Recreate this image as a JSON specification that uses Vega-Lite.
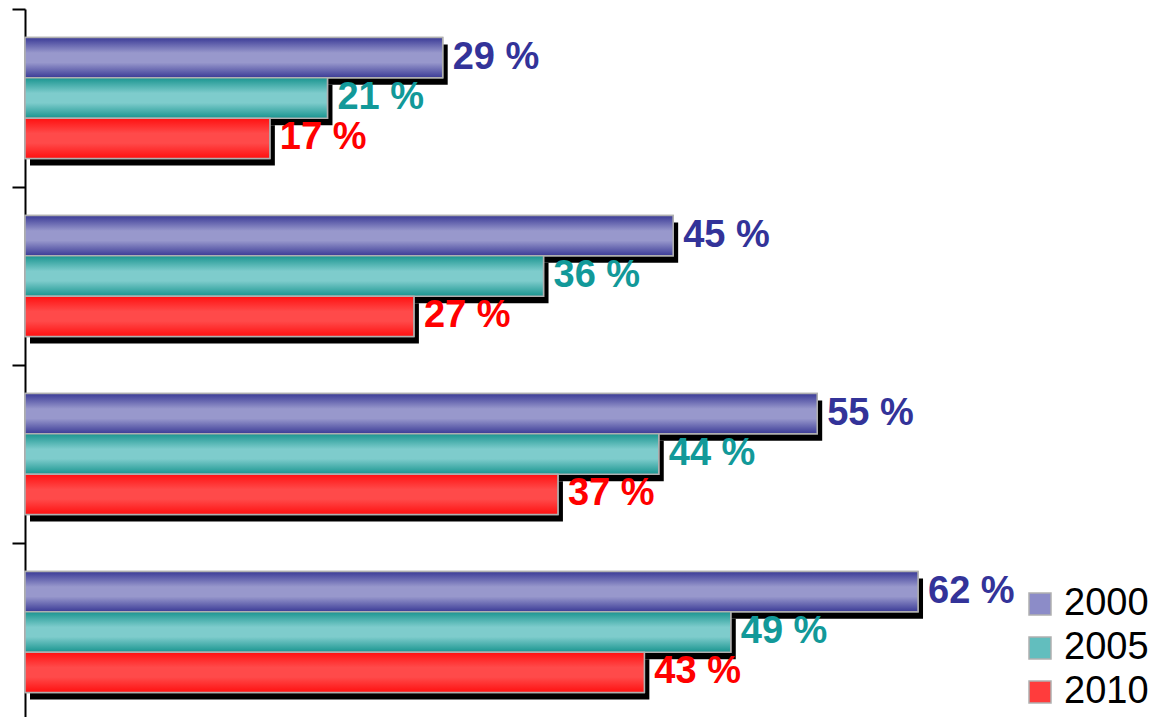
{
  "$schema": "https://vega.github.io/schema/vega-lite/v6.json",
  "width": 1135,
  "height": 712,
  "autosize": {"type": "none"},
  "padding": {"left": 25, "top": 9, "right": 0, "bottom": 0},
  "background": "white",
  "config": {"view": {"stroke": null}, "font": "Liberation Sans"},
  "data": {
    "values": [
      {"group": "A", "year": "2000", "value": 29, "label": "29 %"},
      {"group": "A", "year": "2005", "value": 21, "label": "21 %"},
      {"group": "A", "year": "2010", "value": 17, "label": "17 %"},
      {"group": "B", "year": "2000", "value": 45, "label": "45 %"},
      {"group": "B", "year": "2005", "value": 36, "label": "36 %"},
      {"group": "B", "year": "2010", "value": 27, "label": "27 %"},
      {"group": "C", "year": "2000", "value": 55, "label": "55 %"},
      {"group": "C", "year": "2005", "value": 44, "label": "44 %"},
      {"group": "C", "year": "2010", "value": 37, "label": "37 %"},
      {"group": "D", "year": "2000", "value": 62, "label": "62 %"},
      {"group": "D", "year": "2005", "value": 49, "label": "49 %"},
      {"group": "D", "year": "2010", "value": 43, "label": "43 %"}
    ]
  },
  "encoding": {
    "y": {
      "field": "group", "type": "nominal", "sort": null,
      "scale": {"paddingInner": 0, "paddingOuter": 0},
      "axis": {"labels": false, "title": null, "bandPosition": 0, "tickSize": 13, "tickWidth": 2, "tickColor": "black", "domainColor": "black", "domainWidth": 2, "grid": false}
    },
    "x": {"field": "value", "type": "quantitative", "scale": {"domain": [0, 78.8]}, "axis": null}
  },
  "layer": [
    {
      "mark": {"type": "bar", "fill": "black", "xOffset": 5},
      "encoding": {
        "yOffset": {
          "field": "year", "type": "nominal", "sort": ["2000", "2005", "2010"],
          "scale": {"paddingOuter": 0.71, "paddingInner": 0, "range": [7, 185]}
        }
      }
    },
    {
      "encoding": {
        "yOffset": {
          "field": "year", "type": "nominal", "sort": ["2000", "2005", "2010"],
          "scale": {"paddingOuter": 0.71, "paddingInner": 0}
        }
      },
      "layer": [
        {
          "mark": {"type": "bar", "stroke": "#b0b0b0", "strokeWidth": 1.5},
          "encoding": {
            "color": {
              "field": "year", "type": "nominal",
              "scale": {"domain": ["2000", "2005", "2010"], "range": ["#8c8cc8", "#62bebe", "#ff3c3c"]},
              "legend": {
                "orient": "none", "legendX": 996, "legendY": 576, "title": null,
                "symbolType": "square", "symbolSize": 484, "symbolStrokeColor": "#b0b0b0", "symbolStrokeWidth": 1.5,
                "symbolOpacity": 1,
                "labelFontSize": 38, "labelFont": "Liberation Sans", "labelColor": "black", "labelOffset": 5,
                "rowPadding": 6, "padding": 0
              }
            }
          }
        },
        {
          "transform": [{"filter": "datum.year === '2000'"}],
          "mark": {"type": "bar", "stroke": "#b0b0b0", "strokeWidth": 1.5,
            "fill": {"gradient": "linear", "x1": 0, "y1": 0, "x2": 0, "y2": 1,
              "stops": [{"offset": 0, "color": "#3a3a96"}, {"offset": 0.38, "color": "#9898cc"}, {"offset": 0.62, "color": "#9898cc"}, {"offset": 1, "color": "#3a3a96"}]}}
        },
        {
          "transform": [{"filter": "datum.year === '2005'"}],
          "mark": {"type": "bar", "stroke": "#b0b0b0", "strokeWidth": 1.5,
            "fill": {"gradient": "linear", "x1": 0, "y1": 0, "x2": 0, "y2": 1,
              "stops": [{"offset": 0, "color": "#1a9590"}, {"offset": 0.38, "color": "#7ecccc"}, {"offset": 0.62, "color": "#7ecccc"}, {"offset": 1, "color": "#1a9590"}]}}
        },
        {
          "transform": [{"filter": "datum.year === '2010'"}],
          "mark": {"type": "bar", "stroke": "#b0b0b0", "strokeWidth": 1.5,
            "fill": {"gradient": "linear", "x1": 0, "y1": 0, "x2": 0, "y2": 1,
              "stops": [{"offset": 0, "color": "#ff1010"}, {"offset": 0.38, "color": "#ff4a4a"}, {"offset": 0.62, "color": "#ff4a4a"}, {"offset": 1, "color": "#ff1010"}]}}
        },
        {
          "mark": {"type": "text", "align": "left", "baseline": "middle", "dx": 10, "fontSize": 38, "fontWeight": "bold", "font": "Liberation Sans"},
          "encoding": {
            "text": {"field": "label"},
            "color": {
              "field": "year", "type": "nominal",
              "scale": {"domain": ["2000", "2005", "2010"], "range": ["#333399", "#129999", "#ff0000"]},
              "legend": null
            }
          }
        }
      ],
      "resolve": {"scale": {"color": "independent"}}
    }
  ],
  "resolve": {"scale": {"yOffset": "independent"}}
}
